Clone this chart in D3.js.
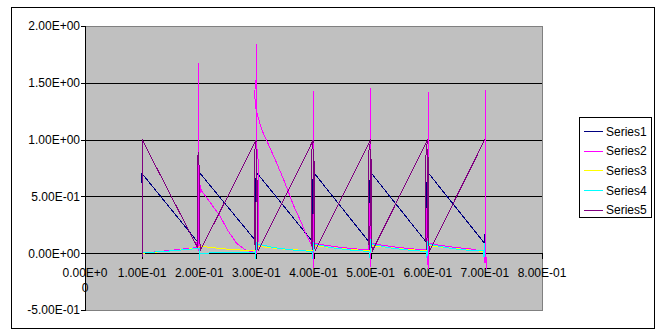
<!DOCTYPE html>
<html>
<head>
<meta charset="utf-8">
<script src="https://cdn.jsdelivr.net/npm/d3@7"></script>
<style>
  body { margin: 0; background: #fff; }
  text { font-family: "Liberation Sans", Arial, sans-serif; font-size: 12px; fill: #000; }
</style>
</head>
<body>
<script>
// series points, [x, y]
const series1 = [
  [0.0995, 0.62], [0.0985, 0.66], [0.0995, 0.70], [0.1, 0.70],
  [0.197, 0.10], [0.1985, 0.13], [0.1985, 0.62], [0.2, 0.68], [0.202, 0.70],
  [0.297, 0.12], [0.2985, 0.14], [0.2985, 0.64], [0.3, 0.68], [0.302, 0.70],
  [0.397, 0.11], [0.3985, 0.15], [0.3985, 0.63], [0.4, 0.68], [0.402, 0.70],
  [0.497, 0.10], [0.4985, 0.16], [0.4985, 0.63], [0.5, 0.68], [0.502, 0.70],
  [0.597, 0.10], [0.5985, 0.15], [0.5985, 0.62], [0.6, 0.68], [0.602, 0.70],
  [0.699, 0.09], [0.6995, 0.17]
]
const series2 = [
  [0.1, 0.0], [0.13, 0.015], [0.16, 0.03], [0.196, 0.05],
  [0.1965, 0.3], [0.197, 0.7], [0.1985, 0.78], [0.1995, 0.5], [0.1995, 1.67], [0.1995, 0.02],
  [0.2005, 0.1], [0.2015, 0.6], [0.204, 0.55],
  [0.22, 0.44], [0.236, 0.33], [0.25, 0.2], [0.265, 0.09], [0.28, 0.03], [0.295, 0.01],
  [0.2995, 0.0], [0.303, 0.1], [0.303, 0.82], [0.3005, 0.95], [0.3005, 1.84], [0.3005, 1.55],
  [0.2985, 1.5], [0.297, 1.4], [0.2985, 1.3], [0.3005, 1.24],
  [0.31, 1.08], [0.32, 0.97], [0.335, 0.8], [0.35, 0.62], [0.365, 0.42], [0.376, 0.3],
  [0.386, 0.18], [0.394, 0.1], [0.398, 0.05],
  [0.4, -0.13], [0.4005, 1.43], [0.4005, 0.1], [0.398, 0.12], [0.398, 0.2], [0.401, 0.09],
  [0.42, 0.07], [0.45, 0.05], [0.48, 0.035], [0.497, 0.03],
  [0.4985, 0.35], [0.4985, 0.44], [0.5, 0.3], [0.5005, -0.12], [0.5005, 1.45], [0.5005, 0.1], [0.502, 0.09],
  [0.52, 0.07], [0.55, 0.05], [0.58, 0.035], [0.597, 0.03],
  [0.5985, 0.3], [0.5985, 0.4], [0.6, 0.2], [0.6005, -0.14], [0.6005, 1.42], [0.6005, 0.1], [0.602, 0.09],
  [0.62, 0.07], [0.65, 0.05], [0.68, 0.035], [0.697, 0.01],
  [0.7005, -0.09], [0.7005, 1.44], [0.702, -0.05], [0.702, -0.14]
]
const series3 = [
  [0.1, 0.0], [0.15, 0.02], [0.198, 0.045], [0.2, 0.06], [0.203, 0.06], [0.25, 0.035], [0.298, 0.02],
  [0.3, 0.06], [0.303, 0.06], [0.35, 0.035], [0.398, 0.02],
  [0.4, 0.07], [0.403, 0.065], [0.45, 0.04], [0.498, 0.02],
  [0.5, 0.07], [0.503, 0.065], [0.55, 0.04], [0.598, 0.02],
  [0.6, 0.07], [0.603, 0.065], [0.65, 0.04], [0.698, 0.015]
]
const series4 = [
  [0.1, 0.05], [0.1, 0.003], [0.15, 0.02], [0.195, 0.04], [0.2, 0.04], [0.2, -0.06], [0.2, 0.0],
  [0.21, 0.0], [0.25, 0.01], [0.298, 0.01],
  [0.2985, -0.05], [0.3, 0.09], [0.303, 0.08], [0.33, 0.05], [0.36, 0.03], [0.397, 0.015],
  [0.3985, -0.05], [0.4, 0.09], [0.403, 0.08], [0.43, 0.05], [0.46, 0.03], [0.497, 0.015],
  [0.4985, -0.04], [0.5, 0.11], [0.503, 0.08], [0.53, 0.05], [0.56, 0.03], [0.597, 0.015],
  [0.5985, -0.04], [0.6, 0.1], [0.603, 0.08], [0.63, 0.05], [0.66, 0.03], [0.697, 0.02],
  [0.6985, -0.03], [0.7, 0.09], [0.7, 0.0]
]
const series5 = [
  [0.1, -0.03], [0.1, 1.0], [0.197, 0.05],
  [0.1965, 0.5], [0.1975, 0.86], [0.199, 0.89], [0.2005, 0.6], [0.201, 0.1], [0.2025, 0.03],
  [0.3, 1.0], [0.297, 0.9], [0.2965, 0.4], [0.297, 0.1], [0.2985, 0.03], [0.2995, 0.5], [0.2995, 0.92],
  [0.301, 0.8], [0.3015, 0.1], [0.303, 0.02],
  [0.4, 1.0], [0.397, 0.9], [0.3965, 0.4], [0.397, 0.08], [0.3985, 0.03], [0.3995, 0.5], [0.3995, 0.92],
  [0.401, 0.8], [0.4015, 0.1], [0.403, 0.02],
  [0.5, 1.0], [0.497, 0.9], [0.4965, 0.4], [0.497, 0.08], [0.4985, 0.03], [0.4995, 0.5], [0.4995, 0.92],
  [0.501, 0.8], [0.5015, 0.1], [0.503, 0.02],
  [0.6, 1.0], [0.597, 0.9], [0.5965, 0.4], [0.597, 0.08], [0.5985, 0.03], [0.5995, 0.5], [0.5995, 0.92],
  [0.601, 0.8], [0.6015, 0.1], [0.603, 0.02],
  [0.7, 1.0]
]

const seriesNames = ["Series1", "Series2", "Series3", "Series4", "Series5"]
const seriesColors = ["#000080", "#ff00ff", "#ffff00", "#00ffff", "#800080"]

const yTicks = [-0.5, 0, 0.5, 1, 1.5, 2]
const yTickLabels = ["-5.00E-01", "0.00E+00", "5.00E-01", "1.00E+00", "1.50E+00", "2.00E+00"]
const xTicks = [0, 0.1, 0.2, 0.3, 0.4, 0.5, 0.6, 0.7, 0.8]
const xTickLabels = ["0.00E+00", "1.00E-01", "2.00E-01", "3.00E-01", "4.00E-01", "5.00E-01", "6.00E-01", "7.00E-01", "8.00E-01"]

const width = 668, height = 334
const plot = {left: 85, right: 542, top: 26, bottom: 310}

const svg = d3.select("body").append("svg")
  .attr("width", width)
  .attr("height", height)
  .attr("shape-rendering", "crispEdges")

const x = d3.scaleLinear().domain([0, 0.8]).range([plot.left, plot.right])
const y = d3.scaleLinear().domain([-0.5, 2]).range([plot.bottom, plot.top])
const px = v => Math.round(v) + 0.5

// chart area
svg.append("rect")
  .attr("x", 11.5).attr("y", 7.5)
  .attr("width", 643).attr("height", 321)
  .attr("fill", "#fff").attr("stroke", "#000")

// plot area
svg.append("rect")
  .attr("x", px(plot.left)).attr("y", px(plot.top))
  .attr("width", plot.right - plot.left).attr("height", plot.bottom - plot.top)
  .attr("fill", "#c0c0c0").attr("stroke", "#808080")

// gridlines
svg.append("g").selectAll("line")
  .data(yTicks.filter(d => d > 0 && d < 2))
  .join("line")
  .attr("x1", plot.left).attr("x2", plot.right)
  .attr("y1", d => px(y(d))).attr("y2", d => px(y(d)))
  .attr("stroke", "#000")

// y axis
const yAxis = svg.append("g")
yAxis.append("line")
  .attr("x1", px(plot.left)).attr("x2", px(plot.left))
  .attr("y1", plot.top).attr("y2", plot.bottom + 1)
  .attr("stroke", "#000")
yAxis.selectAll("line.tick")
  .data(yTicks)
  .join("line")
  .attr("class", "tick")
  .attr("x1", plot.left - 4).attr("x2", plot.left)
  .attr("y1", d => px(y(d))).attr("y2", d => px(y(d)))
  .attr("stroke", "#000")
yAxis.selectAll("text")
  .data(yTicks)
  .join("text")
  .attr("x", plot.left - 5)
  .attr("y", d => y(d))
  .attr("dy", "0.36em")
  .attr("text-anchor", "end")
  .text((d, i) => yTickLabels[i])

// x axis at zero
const xAxis = svg.append("g")
xAxis.append("line")
  .attr("x1", plot.left).attr("x2", plot.right + 1)
  .attr("y1", px(y(0))).attr("y2", px(y(0)))
  .attr("stroke", "#000")
xAxis.selectAll("line.tick")
  .data(xTicks)
  .join("line")
  .attr("class", "tick")
  .attr("x1", d => px(x(d))).attr("x2", d => px(x(d)))
  .attr("y1", px(y(0))).attr("y2", px(y(0)) + 5)
  .attr("stroke", "#000")
xAxis.selectAll("text")
  .data(xTicks)
  .join("text")
  .attr("text-anchor", "middle")
  .each(function(d, i) {
    const t = d3.select(this)
    const label = xTickLabels[i]
    if (i === 0) {
      // wrapped like the original
      t.append("tspan").attr("x", x(d)).attr("y", y(0) + 24).text(label.slice(0, 7))
      t.append("tspan").attr("x", x(d)).attr("y", y(0) + 39).text(label.slice(7))
    } else {
      t.attr("x", x(d)).attr("y", y(0) + 24).text(label)
    }
  })

// series lines
const line = d3.line().x(d => x(d[0])).y(d => y(d[1]))
const allSeries = [series1, series2, series3, series4, series5]
svg.append("g").selectAll("path")
  .data(allSeries)
  .join("path")
  .attr("d", line)
  .attr("fill", "none")
  .attr("stroke", (d, i) => seriesColors[i])
  .attr("stroke-width", 1)

// legend
const legend = svg.append("g")
legend.append("rect")
  .attr("x", 579.5).attr("y", 117.5)
  .attr("width", 72).attr("height", 100)
  .attr("fill", "#fff").attr("stroke", "#000")
const item = legend.selectAll("g")
  .data(seriesNames)
  .join("g")
  .attr("transform", (d, i) => `translate(0, ${131 + i * 19.7})`)
item.append("line")
  .attr("x1", 584).attr("x2", 603)
  .attr("y1", 0.5).attr("y2", 0.5)
  .attr("stroke", (d, i) => seriesColors[i])
item.append("text")
  .attr("x", 606)
  .attr("dy", "0.38em")
  .text(d => d)
</script>
</body>
</html>
